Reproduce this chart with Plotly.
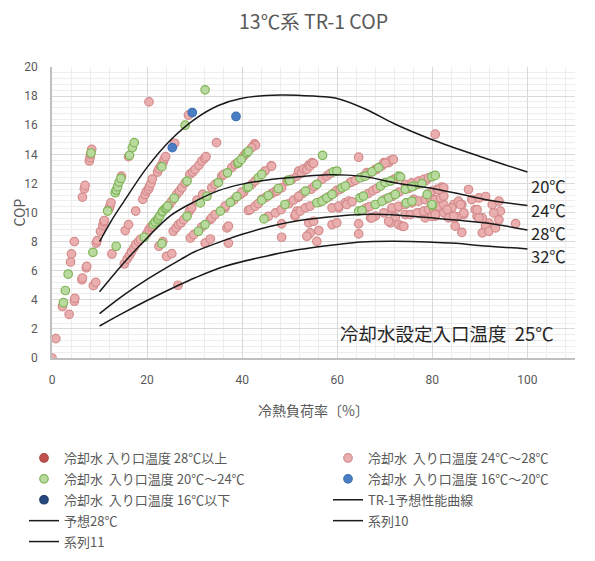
import plotly.graph_objects as go

# ---- measured COP points (cooling load %, COP) grouped by condenser-water inlet temperature ----
pink_points = [  # 24℃～28℃
    (0.0, 0.0), (0.8, 1.33), (2.2, 3.54), (3.6, 3.0), (3.9, 6.6), (4.1, 7.15), (4.7, 8.0), (4.7, 3.9), (4.8, 4.1),
    (6.3, 5.38), (6.4, 5.5), (7.2, 6.2), (7.3, 6.3), (8.7, 4.97), (9.2, 5.2),
    (6.4, 11.06), (6.8, 11.63), (6.95, 11.86),
    (7.85, 13.54), (8.0, 13.77), (8.1, 14.0), (8.35, 14.34),
    (9.3, 7.9), (9.5, 8.07), (10.2, 8.7), (10.7, 9.12), (10.9, 9.35), (11.0, 9.45),
    (12.0, 10.26), (12.2, 10.44), (12.4, 10.67),
    (14.6, 12.5), (16.1, 13.84),
    (12.6, 7.15), (15.4, 8.76), (16.1, 9.17), (17.6, 10.1),
    (15.2, 6.46), (15.8, 6.8), (16.3, 7.05), (16.7, 7.3), (17.2, 7.55), (17.6, 7.8), (18.2, 8.0), (18.6, 8.15),
    (19.9, 8.53), (20.4, 8.83), (20.8, 8.99), (21.2, 9.05),
    (19.1, 10.9), (19.6, 11.24), (19.9, 11.47), (20.3, 11.6), (20.5, 11.8), (20.8, 12.0), (21.1, 12.3),
    (22.2, 12.78), (22.5, 13.0), (22.9, 13.2), (23.4, 13.47), (23.6, 13.66), (23.9, 13.84), (25.8, 14.76),
    (20.4, 17.6), (28.7, 16.69), (34.6, 14.8), (42.6, 14.72), (42.8, 14.62), (46.1, 13.2), (64.5, 13.8), (80.6, 15.38),
    (22.5, 7.68), (23.3, 8.0), (24.1, 6.99), (25.2, 7.17), (26.5, 5.0),
    (24.7, 10.55), (25.2, 10.78), (26.2, 11.24), (26.8, 11.47), (27.3, 11.7), (28.0, 12.04), (29.0, 12.62),
    (29.6, 12.78), (30.1, 12.96), (30.9, 13.24), (31.5, 13.54), (32.1, 13.72), (32.4, 13.84),
    (25.5, 8.71), (26.1, 8.94), (26.6, 9.17), (27.1, 9.28), (27.7, 9.51), (28.9, 10.09), (29.4, 10.32),
    (30.5, 10.85), (31.7, 11.24), (33.6, 11.7), (34.3, 11.93), (35.7, 12.5), (36.1, 12.62), (37.8, 13.08),
    (38.5, 13.31), (40.3, 13.88), (40.8, 14.07), (42.0, 14.46),
    (29.1, 8.25), (29.8, 8.48), (31.5, 9.0), (33.3, 9.51), (33.6, 9.63), (34.3, 9.86), (36.4, 10.32),
    (38.2, 10.85), (39.6, 11.24), (40.3, 11.4), (42.0, 11.93), (42.7, 12.16), (44.8, 12.85), (46.2, 13.19),
    (32.2, 7.9), (33.3, 8.18), (36.8, 8.94), (37.1, 9.06), (37.1, 7.9), (36.4, 10.44), (39.9, 11.4),
    (41.3, 10.14), (41.7, 10.2), (42.7, 10.43), (43.4, 10.62), (44.1, 10.9), (45.0, 11.05), (46.2, 11.3),
    (46.8, 11.42), (47.3, 11.47), (48.3, 11.7), (49.4, 12.16), (50.4, 12.27), (51.5, 12.5), (51.9, 12.85),
    (52.5, 12.73), (52.9, 13.0), (53.6, 12.96), (54.0, 13.26), (54.3, 13.2), (54.7, 13.43), (55.0, 13.38),
    (45.5, 9.74), (47.0, 9.97), (48.2, 10.2), (49.8, 10.6), (50.8, 10.85), (51.8, 11.05), (52.7, 11.3),
    (54.5, 11.6), (55.2, 11.8), (56.8, 12.28), (57.8, 12.5), (58.5, 12.67),
    (48.3, 9.22), (48.3, 8.3), (51.1, 9.75), (51.5, 10.09),
    (51.2, 9.86), (52.2, 10.09), (53.3, 10.32), (54.3, 10.44), (51.9, 11.13),
    (54.0, 9.29), (55.0, 9.4), (54.0, 8.48), (54.3, 8.6), (53.6, 8.37), (56.1, 8.76), (55.7, 8.02),
    (58.9, 9.17), (59.9, 9.29), (64.5, 9.22), (64.5, 8.53), (60.3, 10.32),
    (58.9, 10.32), (60.3, 10.44), (61.7, 10.67), (62.4, 10.78), (62.0, 10.55), (63.1, 10.74),
    (56.3, 10.72), (57.3, 10.9), (58.3, 11.1), (59.4, 11.35),
    (59.9, 11.52), (60.6, 11.59), (62.7, 12.05), (63.0, 12.1), (63.8, 12.21), (65.3, 12.45), (66.2, 12.74),
    (66.7, 12.65), (68.0, 12.96), (68.2, 12.95), (69.4, 13.2), (69.8, 13.43), (70.8, 13.43), (71.2, 13.59),
    (71.8, 13.65), (70.1, 13.4),
    (66.0, 10.3), (66.8, 10.4), (70.1, 10.9), (71.5, 11.1), (73.0, 11.4), (75.0, 11.65), (77.0, 11.95), (78.6, 12.2),
    (66.5, 11.3), (67.5, 11.5), (68.3, 11.65), (72.0, 12.3),
    (67.0, 9.63), (68.0, 9.75), (69.8, 9.98), (71.5, 10.21), (72.9, 10.37), (74.7, 10.67), (76.1, 10.9),
    (79.9, 11.47), (81.0, 11.59), (82.0, 11.75),
    (72.2, 9.68), (74.3, 9.86), (77.1, 9.98), (78.5, 9.63), (80.6, 9.75), (82.4, 9.98), (83.4, 10.14),
    (84.5, 10.55), (85.5, 10.78),
    (71.2, 9.29), (72.9, 9.17), (73.6, 9.06), (67.3, 9.63), (70.8, 9.4), (74.0, 9.05),
    (75.4, 9.86), (76.8, 9.97), (78.2, 10.09), (79.2, 10.2), (80.3, 10.2), (81.3, 10.43), (82.4, 10.55),
    (79.9, 9.74), (80.6, 9.86),
    (71.5, 10.32), (72.9, 10.43), (74.3, 10.55), (75.7, 10.66), (77.1, 10.78), (78.5, 10.89), (79.6, 10.94),
    (80.6, 10.89), (81.7, 11.0), (82.4, 11.12),
    (74.3, 11.93), (75.7, 12.04), (77.1, 12.16), (78.2, 12.27), (79.2, 12.39), (81.3, 11.58), (82.4, 11.7),
    (87.6, 11.58), (88.3, 10.89), (89.8, 11.0), (91.2, 11.1), (92.6, 10.55), (94.0, 10.78), (94.3, 10.09),
    (92.9, 9.97), (94.0, 9.5), (91.9, 9.28), (91.2, 9.06), (90.5, 8.6), (91.9, 8.71), (93.3, 8.94),
    (97.5, 9.24), (89.0, 10.2), (89.4, 9.74), (90.5, 9.63), (86.2, 10.55), (86.6, 9.86), (86.2, 8.64),
    (84.8, 9.06), (84.1, 10.32), (83.1, 10.2), (84.5, 9.63), (85.2, 9.7), (85.9, 10.55), (86.6, 9.98),
    (83.4, 9.63), (84.5, 9.75), (89.8, 9.63), (89.4, 10.2),
]

green_points = [  # 20℃～24℃
    (2.4, 3.8), (2.8, 4.64), (3.4, 5.77), (8.2, 14.09), (8.6, 7.26), (11.7, 10.1),
    (13.3, 11.36), (13.5, 11.54), (13.8, 11.77), (14.1, 12.09), (14.5, 12.34), (13.5, 7.68),
    (16.3, 13.93), (16.9, 14.46), (17.3, 14.8),
    (19.4, 8.3), (21.3, 9.2), (21.7, 9.35), (22.2, 9.51), (22.4, 9.63), (22.7, 9.78), (23.2, 10.04),
    (23.3, 10.09), (23.8, 10.27), (24.1, 10.32), (24.3, 10.44), (25.7, 10.98), (28.4, 12.16),
    (23.1, 13.15), (23.1, 7.86), (28.0, 16.0), (32.2, 18.43),
    (28.4, 9.74), (31.2, 10.66), (32.6, 11.12), (35.0, 12.06), (36.9, 12.73), (39.1, 13.38), (39.2, 13.47),
    (39.8, 13.65), (41.0, 14.11), (41.3, 14.2),
    (30.8, 8.71), (32.2, 9.17), (35.4, 10.09), (37.5, 10.7), (38.9, 11.1), (41.0, 11.7), (41.3, 11.77),
    (43.4, 12.39), (44.1, 12.62),
    (44.1, 10.85), (45.5, 11.17), (47.6, 11.65), (49.7, 12.23), (50.0, 12.2),
    (44.6, 9.56), (49.0, 10.55), (53.3, 11.47), (55.7, 11.93), (59.2, 12.8), (59.9, 12.85),
    (56.9, 13.93),
    (55.7, 10.67), (56.8, 10.78), (57.8, 11.01), (58.9, 11.24), (61.0, 11.7), (61.7, 11.82), (64.8, 12.39),
    (65.9, 12.5), (67.3, 12.8), (68.7, 13.08),
    (64.5, 10.09), (65.2, 10.14), (68.0, 10.55), (69.4, 10.78), (70.8, 11.01), (72.2, 11.24), (74.3, 11.59),
    (76.1, 11.82), (77.8, 11.98), (79.9, 12.46), (80.6, 12.55),
    (64.8, 11.01), (65.5, 11.13), (69.1, 11.82), (70.1, 12.05), (71.2, 12.16), (72.9, 12.5), (73.3, 12.45),
    (78.9, 11.24), (80.0, 10.5), (74.5, 10.66), (75.7, 10.78), (79.9, 10.55), (75.7, 11.77),
]

blue_points = [(25.3, 14.46), (29.5, 16.87), (38.7, 16.6)]  # 16℃～20℃

# ---- predicted performance curves (load %, COP) at each condenser-water temperature ----
curve_20_load = [10, 12.6, 15, 20, 25, 30, 35, 40, 48, 55, 60, 66, 72, 80, 90, 100]
curve_20_cop = [8.0, 9.5, 10.7, 13.1, 15.0, 16.4, 17.35, 17.85, 18.08, 18.0, 17.84, 17.1, 16.1, 15.0, 13.85, 12.78]
curve_24_load = [10, 15, 20, 25, 30, 35, 40, 46, 52, 58, 65, 72, 80, 86, 91, 100]
curve_24_cop = [4.55, 6.5, 8.25, 9.8, 10.75, 11.5, 11.95, 12.27, 12.45, 12.6, 12.5, 12.05, 11.65, 11.25, 10.9, 10.48]
curve_28_load = [10, 15, 20, 27, 30, 36.4, 40, 46, 52, 60, 65, 70, 79, 91, 100]
curve_28_cop = [3.05, 4.3, 5.4, 6.76, 7.3, 8.1, 8.5, 9.05, 9.45, 9.75, 9.86, 9.86, 9.65, 9.29, 8.8]
curve_32_load = [10, 15, 20, 26.6, 30, 36.4, 45, 52, 60, 65, 72, 79, 85, 91, 100]
curve_32_cop = [2.2, 3.1, 3.95, 5.0, 5.5, 6.3, 7.0, 7.45, 7.8, 7.98, 8.02, 7.98, 7.88, 7.7, 7.5]

curve_labels = ["20℃", "24℃", "28℃", "32℃"]
curve_label_cop = [11.8, 10.15, 8.6, 7.0]

pink_load, pink_cop = zip(*pink_points)
green_load, green_cop = zip(*green_points)
blue_load, blue_cop = zip(*blue_points)

CJK = "Noto Sans CJK JP"
GRAY = "#595959"
SP2 = " \u00a0"

fig = go.Figure()


def dots(name, xs, ys, fill, edge, legend):
    fig.add_trace(go.Scatter(
        x=list(xs), y=list(ys), mode="markers", name=name, legend=legend,
        legendgroup=name, showlegend=True,
        marker=dict(size=8.5, color=fill, line=dict(color=edge, width=1.2)),
    ))


def curve(name, xs, ys, legend):
    fig.add_trace(go.Scatter(
        x=xs, y=ys, mode="lines", name=name, legend=legend, legendgroup=name,
        line=dict(color="#1a1a1a", width=1.5, shape="spline", smoothing=1.0),
    ))


# series with no readings in this period still keep their legend entries
dots("冷却水 入り口温度 28℃以上", [None], [None], "#C0504D", "#A94542", "legend")
dots("冷却水" + SP2 + "入り口温度 24℃～28℃", pink_load, pink_cop, "#EAAEAE", "#D38B8B", "legend2")
dots("冷却水" + SP2 + "入り口温度 20℃～24℃", green_load, green_cop, "#B8DA9F", "#7FB356", "legend")
dots("冷却水" + SP2 + "入り口温度 16℃～20℃", blue_load, blue_cop, "#4A7FC6", "#3F70B3", "legend2")
dots("冷却水" + SP2 + "入り口温度 16℃以下", [None], [None], "#25467E", "#1E3A6A", "legend")
curve("TR-1予想性能曲線", curve_20_load, curve_20_cop, "legend2")
curve("予想28℃", curve_28_load, curve_28_cop, "legend")
curve("系列10", curve_24_load, curve_24_cop, "legend2")
curve("系列11", curve_32_load, curve_32_cop, "legend")

for label, cop in zip(curve_labels, curve_label_cop):
    fig.add_annotation(x=100.3, y=cop, text=label, showarrow=False, xanchor="left", yanchor="middle",
                       font=dict(family=CJK, size=16.5, color="#262626"))

fig.add_annotation(x=60.2, y=1.7, text="冷却水設定入口温度\u00a0 25℃", showarrow=False,
                   xanchor="left", yanchor="middle", font=dict(family=CJK, size=18.5, color="#262626"))

# axis titles
fig.add_annotation(x=0.5, y=-(410 - 358) / 291, xref="paper", yref="paper", text="冷熱負荷率〔%〕",
                   showarrow=False, xanchor="center", yanchor="middle",
                   font=dict(family=CJK, size=14, color=GRAY))
fig.add_annotation(x=(18 - 52) / 523, y=0.5, xref="paper", yref="paper", text="COP", textangle=-90,
                   showarrow=False, xanchor="center", yanchor="middle",
                   font=dict(family=CJK, size=14, color=GRAY))

legend_style = dict(
    orientation="v", xref="container", yref="container", xanchor="left", yanchor="top",
    font=dict(family=CJK, size=13, color=GRAY), bgcolor="rgba(0,0,0,0)", tracegroupgap=1,
    itemclick=False, itemdoubleclick=False,
)

fig.update_layout(
    width=595, height=561,
    margin=dict(l=52, r=20, t=67, b=203, autoexpand=False),
    paper_bgcolor="white", plot_bgcolor="white",
    title=dict(text="13℃系 TR-1 COP", x=0.5, xref="paper", xanchor="center",
               y=1 - 22 / 561, yref="container", yanchor="middle",
               font=dict(family=CJK, size=19.5, color=GRAY)),
    xaxis=dict(
        range=[0, 110], tickmode="array", tickvals=[0, 20, 40, 60, 80, 100],
        showgrid=True, gridcolor="#D9D9D9", gridwidth=1,
        minor=dict(dtick=4, tick0=0, showgrid=True, gridcolor="#EDEDED", gridwidth=1),
        showline=True, linecolor="#BFBFBF", linewidth=2, zeroline=False,
        ticks="", ticklabelstandoff=10,
        tickfont=dict(family="Roboto, " + CJK, size=12, color=GRAY),
    ),
    yaxis=dict(
        range=[0, 20], dtick=2, tick0=0,
        showgrid=True, gridcolor="#D9D9D9", gridwidth=1,
        minor=dict(dtick=0.4, tick0=0, showgrid=True, gridcolor="#EDEDED", gridwidth=1),
        showline=True, linecolor="#BFBFBF", linewidth=1.5, zeroline=False,
        ticks="", ticklabelstandoff=10,
        tickfont=dict(family="Roboto, " + CJK, size=12, color=GRAY),
    ),
    legend=dict(x=24 / 595, y=1 - 443 / 561, **legend_style),
    legend2=dict(x=328 / 595, y=1 - 443 / 561, **legend_style),
    showlegend=True,
)

fig.write_html("out.html")
